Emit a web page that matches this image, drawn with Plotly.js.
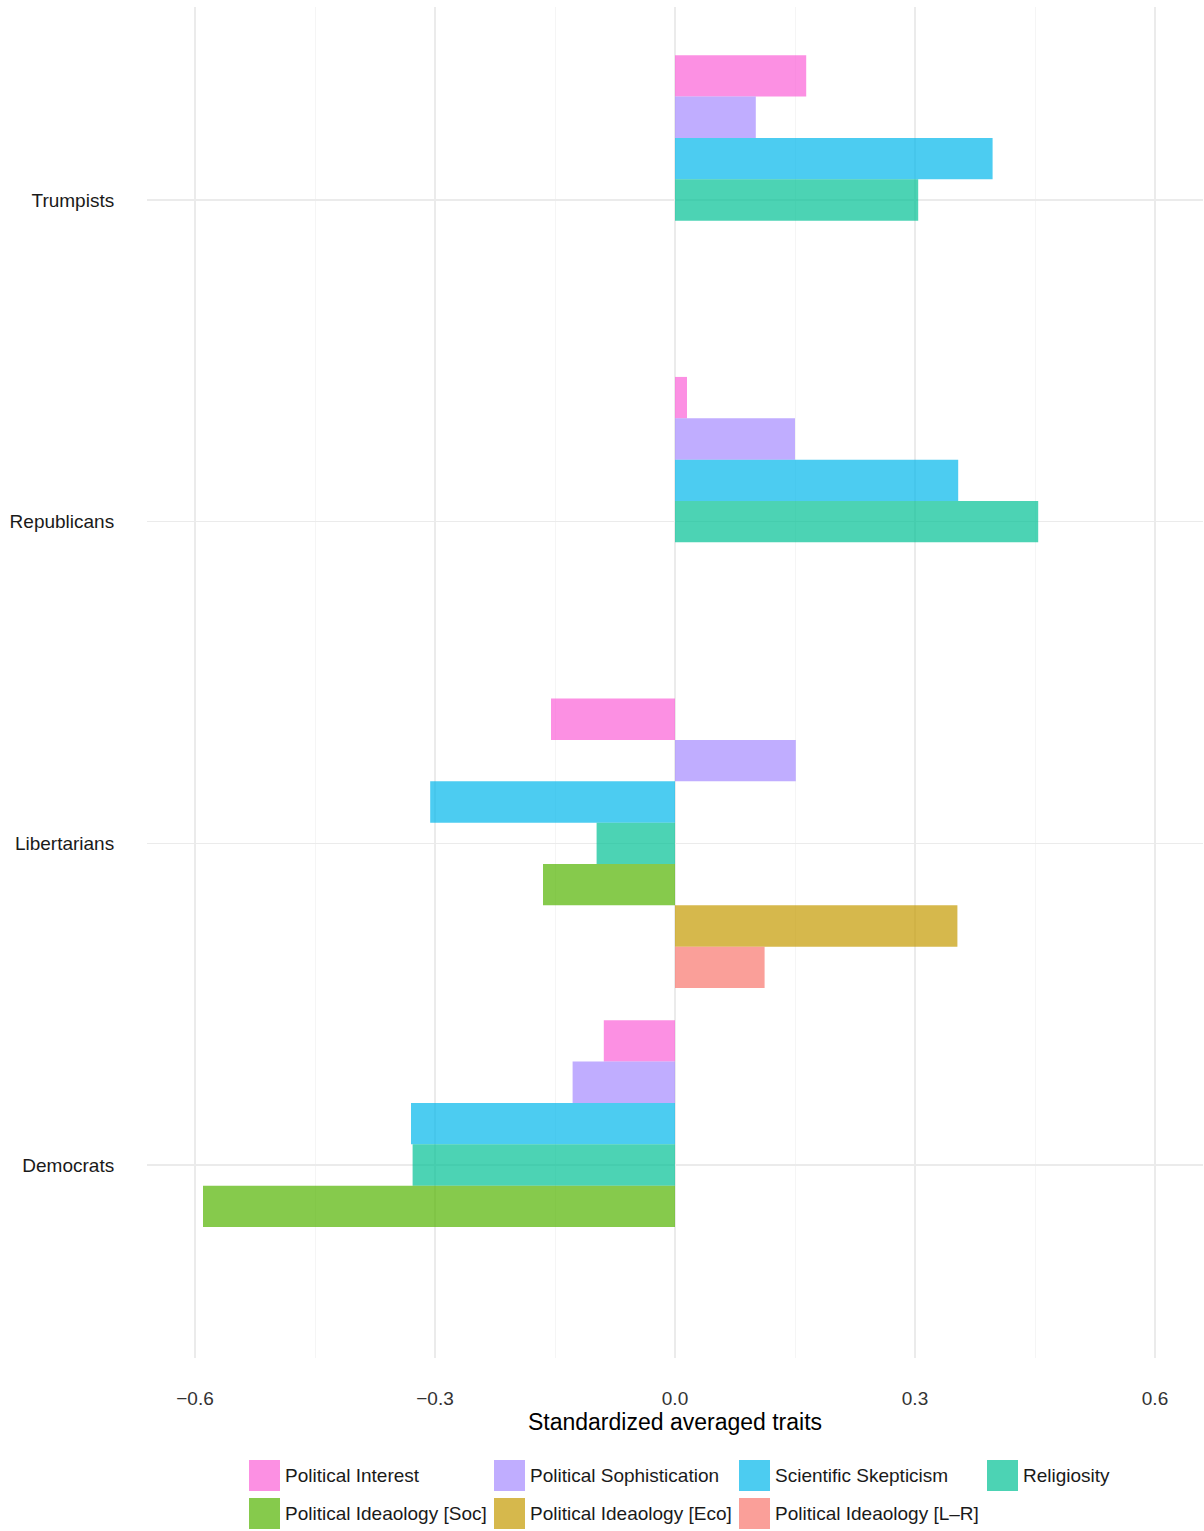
<!DOCTYPE html>
<html>
<head>
<meta charset="utf-8">
<script src="https://cdn.plot.ly/plotly-3.0.1.min.js"></script>
<style>html,body{margin:0;padding:0;background:#fff;}#chart{width:1204px;height:1531px;}</style>
</head>
<body>
<div id="chart"></div>
<script>
// ---- data ----
var groups = ["Trumpists", "Republicans", "Libertarians", "Democrats"];
var seriesNames = [
  "Political Interest",
  "Political Sophistication",
  "Scientific Skepticism",
  "Religiosity",
  "Political Ideaology [Soc]",
  "Political Ideaology [Eco]",
  "Political Ideaology [L\u2013R]"
];
var politicalInterest       = [0.164, 0.015, -0.155, -0.089];
var politicalSophistication = [0.101, 0.150, 0.151, -0.128];
var scientificSkepticism    = [0.397, 0.354, -0.306, -0.330];
var religiosity             = [0.304, 0.454, -0.098, -0.328];
var ideologySoc             = [null, null, -0.165, -0.590];
var ideologyEco             = [null, null, 0.353, null];
var ideologyLR              = [null, null, 0.112, null];
var xTickVals = [-0.6, -0.3, 0.0, 0.3, 0.6];

var seriesValues = [politicalInterest, politicalSophistication, scientificSkepticism,
                    religiosity, ideologySoc, ideologyEco, ideologyLR];
var colors = [
  "rgba(251,97,215,0.7)",
  "rgba(165,138,255,0.7)",
  "rgba(0,182,235,0.7)",
  "rgba(0,192,148,0.7)",
  "rgba(83,180,0,0.7)",
  "rgba(196,154,0,0.7)",
  "rgba(248,118,109,0.7)"
];

var traces = seriesNames.map(function (name, i) {
  return {
    type: "bar",
    orientation: "h",
    name: name,
    x: seriesValues[i],
    y: groups,
    marker: {color: colors[i], line: {width: 0}},
    showlegend: false,
    hoverinfo: "x+name"
  };
});

// ---- layout geometry (pixels) ----
var W = 1204, Hh = 1531;
var mL = 147, mR = 1, mT = 7, mB = 173;
var plotW = W - mL - mR, plotH = Hh - mT - mB;
var plotBottom = mT + plotH;
function px2x(p) { return (p - mL) / plotW; }
function py2y(p) { return (plotBottom - p) / plotH; }

// manual legend (4 columns x 2 rows)
var legCols = [249, 494, 739, 987];
var legRows = [1460, 1498];
var keySize = 31;
var shapes = [], annotations = [];
seriesNames.forEach(function (name, i) {
  var cx = legCols[i % 4], ry = legRows[Math.floor(i / 4)];
  shapes.push({
    type: "rect", xref: "paper", yref: "paper",
    x0: px2x(cx), x1: px2x(cx + keySize),
    y0: py2y(ry), y1: py2y(ry + keySize),
    fillcolor: colors[i], line: {width: 0}
  });
  annotations.push({
    xref: "paper", yref: "paper",
    x: px2x(cx + keySize + 3), y: py2y(ry + keySize / 2),
    xanchor: "left", yanchor: "middle",
    text: name, showarrow: false,
    font: {family: "Liberation Sans, Arial, sans-serif", size: 19, color: "#1a1a1a"}
  });
});

var layout = {
  width: W, height: Hh,
  margin: {l: mL, r: mR, t: mT, b: mB, pad: 0},
  paper_bgcolor: "#ffffff",
  plot_bgcolor: "#ffffff",
  barmode: "group",
  bargap: 0.1,
  bargroupgap: 0,
  showlegend: false,
  font: {family: "Liberation Sans, Arial, sans-serif", color: "#1a1a1a"},
  xaxis: {
    range: [-0.66, 0.66],
    tickvals: xTickVals,
    tickformat: ".1f",
    ticks: "outside", ticklen: 23, tickcolor: "rgba(0,0,0,0)",
    tickfont: {size: 19, color: "#333333"},
    showgrid: true, gridcolor: "#EBEBEB", gridwidth: 1.5,
    minor: {dtick: 0.15, tick0: 0, showgrid: true, gridcolor: "#F5F5F5", gridwidth: 1, ticks: ""},
    zeroline: false, showline: false,
    title: {text: "Standardized averaged traits", font: {size: 23, color: "#000000"}, standoff: 4}
  },
  yaxis: {
    type: "category",
    categoryorder: "array", categoryarray: groups,
    range: [3.6, -0.6],
    ticks: "outside", ticklen: 28, tickcolor: "rgba(0,0,0,0)",
    tickfont: {size: 19, color: "#1a1a1a"},
    showgrid: true, gridcolor: "#EBEBEB", gridwidth: 1.5,
    zeroline: false, showline: false
  },
  shapes: shapes,
  annotations: annotations
};

Plotly.newPlot("chart", traces, layout, {displayModeBar: false, staticPlot: true});
</script>
</body>
</html>
